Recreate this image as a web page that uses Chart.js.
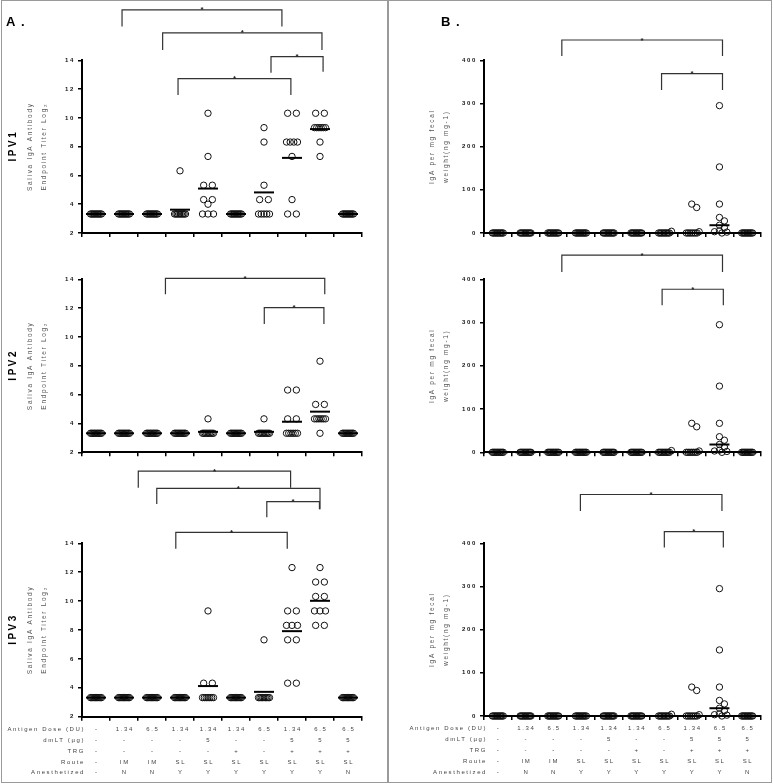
<!DOCTYPE html>
<html>
<head>
<meta charset="utf-8">
<script src="https://cdn.jsdelivr.net/npm/chart.js@4.4.1/dist/chart.umd.min.js"></script>
<style>
html,body{margin:0;padding:0;background:#fff;}
#wrap{position:relative;width:773px;height:784px;overflow:hidden;background:#fff;}
#frame{position:absolute;left:1px;top:0;width:771px;height:783px;box-sizing:border-box;border:1.5px solid #9a9a9a;}
#divider{position:absolute;left:387px;top:0;width:1.5px;height:783px;background:#9a9a9a;}
canvas{position:absolute;left:0;top:0;}
</style>
</head>
<body>
<div id="wrap">
  <div id="frame"></div><div id="divider"></div>
  <canvas id="a1" width="773" height="784"></canvas>
  <canvas id="a2" width="773" height="784"></canvas>
  <canvas id="a3" width="773" height="784"></canvas>
  <canvas id="b1" width="773" height="784"></canvas>
  <canvas id="b2" width="773" height="784"></canvas>
  <canvas id="b3" width="773" height="784"></canvas>
</div>
<script>
// ---------------- DATA ----------------
const categories = ['G1','G2','G3','G4','G5','G6','G7','G8','G9','G10'];
const rowHeaders = ['Antigen Dose (DU)', 'dmLT (µg)', 'TRG', 'Route', 'Anesthetized'];
const doseRow  = ['-', '1.34', '6.5', '1.34', '1.34', '1.34', '6.5', '1.34', '6.5', '6.5'];
const dmltRow  = ['-', '-', '-', '-', '5', '-', '-', '5', '5', '5'];
const trgRow   = ['-', '-', '-', '-', '-', '+', '-', '+', '+', '+'];
const routeRow = ['-', 'IM', 'IM', 'SL', 'SL', 'SL', 'SL', 'SL', 'SL', 'SL'];
const anesRow  = ['-', 'N', 'N', 'Y', 'Y', 'Y', 'Y', 'Y', 'Y', 'N'];

const salivaTitle = ['Saliva IgA Antibody', 'Endpoint Titer Log₂'];
const fecalTitle = ['IgA per mg fecal', 'weight(ng mg-1)'];

// Saliva IgA endpoint titer (log2), per group
const ipv1Values = [
  [3.32,3.32,3.32,3.32,3.32,3.32,3.32,3.32,3.32,3.32],
  [3.32,3.32,3.32,3.32,3.32,3.32,3.32,3.32,3.32,3.32],
  [3.32,3.32,3.32,3.32,3.32,3.32,3.32,3.32,3.32,3.32],
  [6.32,3.32,3.32,3.32,3.32,3.32,3.32,3.32,3.32,3.32],
  [10.32,7.32,5.32,5.32,4.32,4.32,4.0,3.32,3.32,3.32],
  [3.32,3.32,3.32,3.32,3.32,3.32,3.32,3.32,3.32,3.32],
  [9.32,8.32,5.32,4.32,4.32,3.32,3.32,3.32,3.32,3.32],
  [10.32,10.32,8.32,8.32,8.32,8.32,7.32,4.32,3.32,3.32],
  [10.32,10.32,9.32,9.32,9.32,9.32,9.32,9.32,8.32,7.32],
  [3.32,3.32,3.32,3.32,3.32,3.32,3.32,3.32,3.32,3.32]
];
const ipv2Values = [
  [3.32,3.32,3.32,3.32,3.32,3.32,3.32,3.32,3.32,3.32],
  [3.32,3.32,3.32,3.32,3.32,3.32,3.32,3.32,3.32,3.32],
  [3.32,3.32,3.32,3.32,3.32,3.32,3.32,3.32,3.32,3.32],
  [3.32,3.32,3.32,3.32,3.32,3.32,3.32,3.32,3.32,3.32],
  [4.32,3.32,3.32,3.32,3.32,3.32,3.32,3.32,3.32,3.32],
  [3.32,3.32,3.32,3.32,3.32,3.32,3.32,3.32,3.32,3.32],
  [4.32,3.32,3.32,3.32,3.32,3.32,3.32,3.32,3.32,3.32],
  [6.32,6.32,4.32,4.32,3.32,3.32,3.32,3.32,3.32,3.32],
  [8.32,5.32,5.32,4.32,4.32,4.32,4.32,4.32,4.32,3.32],
  [3.32,3.32,3.32,3.32,3.32,3.32,3.32,3.32,3.32,3.32]
];
const ipv3Values = [
  [3.32,3.32,3.32,3.32,3.32,3.32,3.32,3.32,3.32,3.32],
  [3.32,3.32,3.32,3.32,3.32,3.32,3.32,3.32,3.32,3.32],
  [3.32,3.32,3.32,3.32,3.32,3.32,3.32,3.32,3.32,3.32],
  [3.32,3.32,3.32,3.32,3.32,3.32,3.32,3.32,3.32,3.32],
  [9.32,4.32,4.32,3.32,3.32,3.32,3.32,3.32,3.32,3.32],
  [3.32,3.32,3.32,3.32,3.32,3.32,3.32,3.32,3.32,3.32],
  [7.32,3.32,3.32,3.32,3.32,3.32,3.32,3.32,3.32,3.32],
  [12.32,9.32,9.32,8.32,8.32,8.32,7.32,7.32,4.32,4.32],
  [12.32,11.32,11.32,10.32,10.32,9.32,9.32,9.32,8.32,8.32],
  [3.32,3.32,3.32,3.32,3.32,3.32,3.32,3.32,3.32,3.32]
];
// Fecal IgA (ng per mg fecal weight), per group
const fecalValues = [
  [0,0,0,0,0,0,0,0,0,0],
  [0,0,0,0,0,0,0,0,0,0],
  [0,0,0,0,0,0,0,0,0,0],
  [0,0,0,0,0,0,0,0,0,0],
  [0,0,0,0,0,0,0,0,0,0],
  [0,0,0,0,0,0,0,0,0,0],
  [4,0,0,0,0,0,0,0,0,0],
  [67,59,3,0,0,0,0,0,0,0],
  [295,153,67,36,28,18,12,5,3,2,0],
  [0,0,0,0,0,0,0,0,0,0]
];

// significance brackets: [from group, to group, bar level, left leg end, right leg end]
const ipv1Brackets = [
  [0.93, 6.64, 17.50, 16.34, 16.34],
  [2.38, 8.07, 15.90, 14.72, 14.72],
  [6.25, 8.11, 14.25, 13.14, 13.21],
  [2.93, 6.96, 12.72, 11.59, 11.59]
];
const ipv2Brackets = [
  [2.48, 8.17, 14.07, 12.96, 12.96],
  [6.01, 8.14, 12.03, 10.90, 10.90]
];
const ipv3Brackets = [
  [1.51, 6.95, 19.00, 17.85, 17.85],
  [2.17, 8.00, 17.80, 16.72, 16.35],
  [6.10, 7.98, 16.88, 15.80, 16.35],
  [2.85, 6.83, 14.76, 13.63, 13.63]
];
const fecal1Brackets = [
  [2.31, 8.11, 447, 410, 410],
  [5.91, 8.11, 369, 331, 331]
];
const fecal2Brackets = [
  [2.31, 8.11, 456, 417, 417],
  [5.93, 8.14, 377, 340, 340]
];
const fecal3Brackets = [
  [2.98, 8.09, 513, 475, 475],
  [6.01, 8.14, 427, 390, 390]
];

const tableRows = [doseRow, dmltRow, trgRow, routeRow, anesRow];

// ---------------- HELPERS ----------------
const FONT = '"Liberation Sans", Arial, sans-serif';
Chart.defaults.font.family = FONT;

function mean(a){ return a.reduce((s,v)=>s+v,0)/a.length; }
function median(a){ const s=[...a].sort((p,q)=>p-q); const m=Math.floor(s.length/2); return s.length%2? s[m] : (s[m-1]+s[m])/2; }

// beeswarm offsets (pixels) computed from the values
function swarm(vals, ppv){
  const rows = new Map();
  vals.forEach((v,i)=>{ if(!rows.has(v)) rows.set(v,[]); rows.get(v).push(i); });
  const off = new Array(vals.length).fill(0);
  const placed = [];
  for (const [v, idx] of rows){
    if (idx.length > 1){
      const k = idx.length, sp = Math.min(8.7, 11/(k-1));
      idx.forEach((id,j)=>{ off[id] = (j-(k-1)/2)*sp; placed.push([off[id], v*ppv]); });
    }
  }
  const singles = [...rows].filter(r=>r[1].length===1).sort((a,b)=>b[0]-a[0]);
  for (const [v,[id]] of singles){
    const yy = v*ppv; let best = 0, bestD = -1;
    for (const c of [0,2.5,-2.5,5,-5,7.5,-7.5]){
      let d = Infinity;
      for (const [px,py] of placed) d = Math.min(d, Math.hypot(px-c, py-yy));
      if (d >= 5){ best = c; bestD = d; break; }
      if (d > bestD){ bestD = d; best = c; }
    }
    off[id] = best; placed.push([best, yy]);
  }
  return off;
}

const spacingPlugin = { id:'spacing', beforeDraw(chart){ chart.ctx.letterSpacing = '1.7px'; } };

const annotPlugin = {
  id:'annot',
  afterDraw(chart, args, o){
    const {ctx, chartArea:ca, scales:{x, y}} = chart;
    ctx.save();
    // brackets
    ctx.letterSpacing = '0px';
    ctx.strokeStyle = '#333'; ctx.fillStyle = '#222'; ctx.lineWidth = 1.2;
    (o.brackets||[]).forEach(([a,b,top,l1,l2])=>{
      const xa = x.getPixelForValue(a), xb = x.getPixelForValue(b), yt = y.getPixelForValue(top);
      ctx.beginPath();
      ctx.moveTo(xa, y.getPixelForValue(l1)); ctx.lineTo(xa, yt); ctx.lineTo(xb, yt); ctx.lineTo(xb, y.getPixelForValue(l2));
      ctx.stroke();
      ctx.font = 'bold 8px ' + FONT; ctx.textAlign = 'center'; ctx.textBaseline = 'alphabetic';
      ctx.fillText('*', (xa+xb)/2, yt + 2.5);
    });
    // panel letter
    if (o.panelLabel){
      ctx.fillStyle = '#000'; ctx.font = 'bold 13px ' + FONT; ctx.letterSpacing = '1px';
      ctx.textAlign = 'left'; ctx.textBaseline = 'middle';
      ctx.fillText(o.panelLabel, ca.left - o.panelDx, 22);
    }
    // side label
    if (o.sideLabel){
      ctx.save();
      ctx.translate(13, (ca.top+ca.bottom)/2); ctx.rotate(-Math.PI/2);
      ctx.fillStyle = '#000'; ctx.font = 'bold 10px ' + FONT; ctx.letterSpacing = '2.5px';
      ctx.textAlign = 'center'; ctx.textBaseline = 'middle';
      ctx.fillText(o.sideLabel, 1, 0);
      ctx.restore();
    }
    // condition table under the x axis (one column per group, through the x scale)
    if (o.table){
      const lh = 10.9;
      const y0 = x.top + 12.5;
      ctx.fillStyle = '#444'; ctx.font = '6px ' + FONT; ctx.letterSpacing = '1.6px';
      ctx.textBaseline = 'middle';
      ctx.textAlign = 'right';
      rowHeaders.forEach((h,r)=> ctx.fillText(h, ca.left + 3, y0 + r*lh));
      ctx.textAlign = 'center';
      tableRows.forEach((row,r)=> row.forEach((txt,i)=> ctx.fillText(txt, x.getPixelForValue(i) + 0.8, y0 + r*lh)));
    }
    ctx.restore();
  }
};

function build(p){
  const [L, T, R, B] = p.rect;
  const catPx = (R-L)/categories.length;
  const ppv = (B-T)/(p.yMax-p.yMin);
  const pts = [], stats = [];
  p.vals.forEach((vals,i)=>{
    const off = swarm(vals, ppv);
    vals.forEach((v,j)=>pts.push({x: i + off[j]/catPx, y: v}));
    stats.push({x: i, y: p.stat==='mean' ? mean(vals) : median(vals)});
  });
  const yW = 58.5, xH = 8;
  const axisBorder = {display:true, color:'#000', width:2};
  const axisGrid = {display:true, drawOnChartArea:false, drawTicks:true, tickLength:4, color:'#000', lineWidth:1.5};
  return new Chart(document.getElementById(p.id), {
    type:'scatter',
    data:{ datasets:[
      {label:'summary', data:stats, pointStyle:'line', pointRadius:10, pointHoverRadius:10, borderColor:'#000', backgroundColor:'#000', borderWidth:2, clip:false},
      {label:'animals', data:pts, pointStyle:'circle', pointRadius:3.2, pointHoverRadius:3.2, borderColor:'#111', backgroundColor:'rgba(0,0,0,0)', borderWidth:1, clip:false}
    ]},
    options:{
      responsive:false, animation:false, events:[],
      layout:{ padding:{ left:L-yW, top:T, right:773-R, bottom:784-B-xH } },
      plugins:{
        legend:{display:false}, tooltip:{enabled:false},
        annot:{ brackets:p.brackets, panelLabel:p.panelLabel, panelDx:p.panelDx, sideLabel:p.side, table:!!p.table }
      },
      scales:{
        x:{ type:'linear', min:-0.5, max:9.5, afterFit:s=>{ s.height = xH; },
            border:axisBorder, grid:axisGrid,
            ticks:{ stepSize:1, includeBounds:false, autoSkip:false, maxRotation:0, minRotation:0, display:false } },
        y:{ type:'linear', min:p.yMin, max:p.yMax, afterFit:s=>{ s.width = yW; },
            border:axisBorder, grid:axisGrid,
            ticks:{ stepSize:p.step, padding:3, color:'#111', font:{size:6, weight:'bold'} },
            title:{ display:true, text:p.title, color:'#555', padding:0, font:{size:6.5, lineHeight:14/6.5} } }
      }
    },
    plugins:[spacingPlugin, annotPlugin]
  });
}

const panels = [
  {id:'a1', vals:ipv1Values, brackets:ipv1Brackets, stat:'mean', yMin:2, yMax:14, step:2, rect:[82,60.3,362,233], side:'IPV1', panelLabel:'A .', panelDx:76, title:salivaTitle},
  {id:'a2', vals:ipv2Values, brackets:ipv2Brackets, stat:'mean', yMin:2, yMax:14, step:2, rect:[82,279.3,362,452.3], side:'IPV2', title:salivaTitle},
  {id:'a3', vals:ipv3Values, brackets:ipv3Brackets, stat:'mean', yMin:2, yMax:14, step:2, rect:[82,543.3,362,716.7], side:'IPV3', title:salivaTitle, table:true},
  {id:'b1', vals:fecalValues, brackets:fecal1Brackets, stat:'median', yMin:0, yMax:400, step:100, rect:[484,60.3,764,233], panelLabel:'B .', panelDx:43, title:fecalTitle},
  {id:'b2', vals:fecalValues, brackets:fecal2Brackets, stat:'median', yMin:0, yMax:400, step:100, rect:[484,279.3,764,452.3], title:fecalTitle},
  {id:'b3', vals:fecalValues, brackets:fecal3Brackets, stat:'median', yMin:0, yMax:400, step:100, rect:[484,543.3,764,716], title:fecalTitle, table:true}
];
panels.forEach(build);
</script>
</body>
</html>
